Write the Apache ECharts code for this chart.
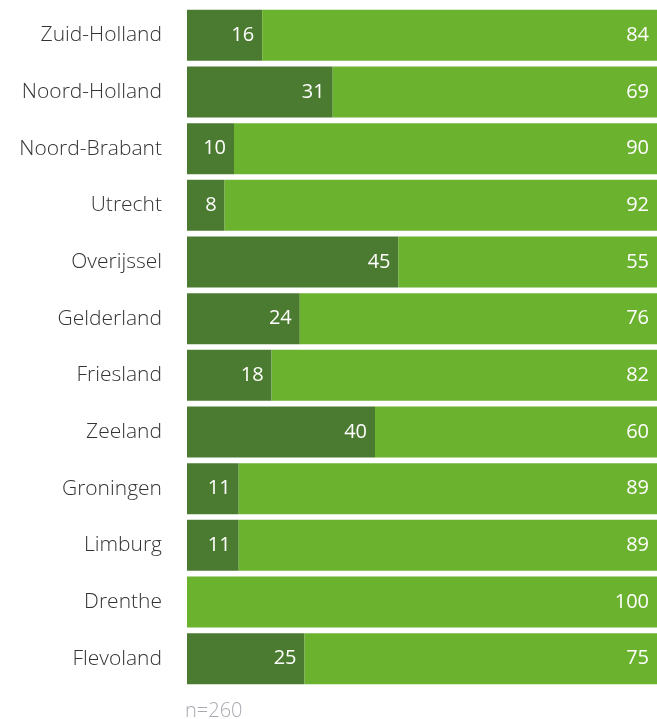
<!DOCTYPE html>
<html>
<head>
<meta charset="utf-8">
<script src="https://cdn.jsdelivr.net/npm/echarts@6/dist/echarts.min.js"></script>
<style>
  html, body { margin: 0; padding: 0; background: #fff; }
  #main { width: 657px; height: 719px; }
</style>
</head>
<body>
<div id="main"></div>
<script>
// provincies, van boven naar beneden
var provinces = ['Zuid-Holland', 'Noord-Holland', 'Noord-Brabant', 'Utrecht', 'Overijssel', 'Gelderland',
  'Friesland', 'Zeeland', 'Groningen', 'Limburg', 'Drenthe', 'Flevoland'];
var darkValues = [16, 31, 10, 8, 45, 24, 18, 40, 11, 11, 0, 25];
var lightValues = [84, 69, 90, 92, 55, 76, 82, 60, 89, 89, 100, 75];
var note = 'n=260';

var labelFont = '"Open Sans", sans-serif';

var myChart = echarts.init(document.getElementById('main'));
myChart.setOption({
  animation: false,
  graphic: [{
    type: 'text',
    left: 185,
    top: 701,
    style: { text: note, fill: '#a9a9b1', fontSize: 20, fontFamily: labelFont, fontWeight: 300 }
  }],
  grid: { left: 187, right: 0, top: 7, height: 680 },
  xAxis: {
    type: 'value', min: 0, max: 100,
    show: false
  },
  yAxis: {
    type: 'category',
    data: provinces,
    inverse: true,
    axisLine: { show: false },
    axisTick: { show: false },
    axisLabel: { color: '#333', fontSize: 21, fontFamily: labelFont, fontWeight: 300, margin: 25, padding: [0, 0, 3, 0] }
  },
  series: [{
    name: 'dark',
    type: 'bar',
    stack: 'total',
    barWidth: 51,
    data: darkValues,
    itemStyle: { color: '#4b7b30' },
    label: {
      show: true, position: 'insideRight', distance: 8,
      color: '#fff', fontSize: 20, fontFamily: labelFont,
      formatter: function (p) { return p.value > 0 ? p.value : ''; }
    }
  }, {
    name: 'light',
    type: 'bar',
    stack: 'total',
    barWidth: 51,
    data: lightValues,
    itemStyle: { color: '#6bb22f' },
    label: {
      show: true, position: 'insideRight', distance: 8,
      color: '#fff', fontSize: 20, fontFamily: labelFont
    }
  }]
});
</script>
</body>
</html>
